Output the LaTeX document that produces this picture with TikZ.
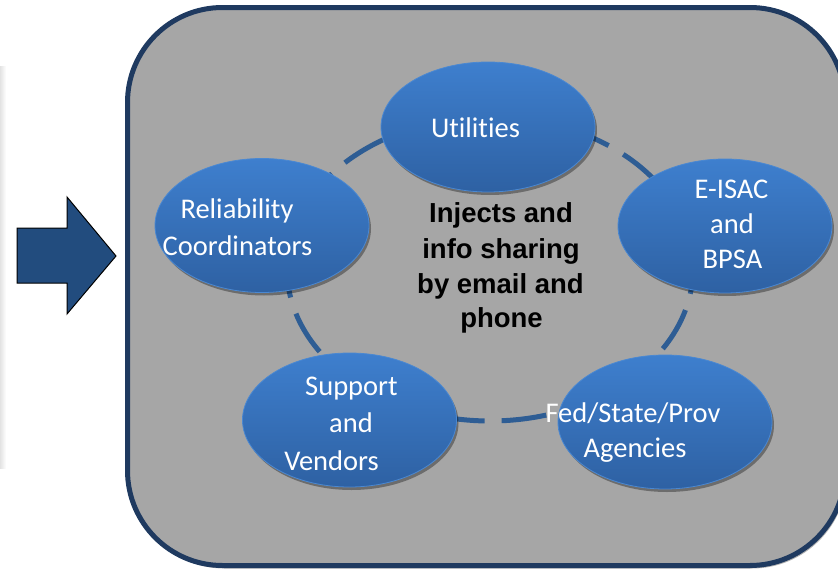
\documentclass[tikz,border=0pt]{standalone}
\usepackage{fontspec}
\setmainfont{Carlito}[Ligatures={NoCommon,NoRare,NoContextual}]
\newfontfamily\boldsans{Liberation Sans}
\usetikzlibrary{shadows,shapes.geometric}
\definecolor{rectfill}{HTML}{A6A6A6}
\definecolor{navy}{HTML}{1F3A60}
\definecolor{arrowblue}{HTML}{224C7E}
\definecolor{elltop}{HTML}{3E7FCE}
\definecolor{ellbot}{HTML}{2E61A3}
\definecolor{ellline}{HTML}{4A88D2}
\definecolor{ringblue}{HTML}{2E5D94}
\begin{document}
\begin{tikzpicture}[x=1pt,y=-1pt,
  bubble/.style={ellipse, minimum width=214pt, minimum height=134pt, inner sep=0pt,
    top color=elltop, bottom color=ellbot, draw=ellline, line width=0.8pt,
    drop shadow={shadow xshift=2pt,shadow yshift=-3pt,opacity=0.35,fill=black}},
  btext/.style={anchor=base, text=white, inner sep=0pt, font=\fontsize{28.5}{34}\selectfont},
  ctext/.style={anchor=base, text=black, inner sep=0pt, font=\boldsans\bfseries\fontsize{27.5}{35}\selectfont},
  ring/.style={draw=ringblue, line width=5pt, dash pattern=on 45pt off 17pt}
]
\useasboundingbox (0,0) rectangle (838,570);
% faint edge of a previous box
\shade[left color=gray!22, right color=white] (0,66) rectangle (6,468);
% arrow
\draw[fill=arrowblue, draw=black, line width=1pt, line join=miter]
  (17,228) -- (67,228) -- (67,197) -- (116,256) -- (67,314) -- (67,283) -- (17,283) -- cycle;
% main panel
\draw[fill=rectfill, draw=navy, line width=5pt, rounded corners=95pt,
  drop shadow={shadow xshift=2pt,shadow yshift=-3pt,opacity=0.3,fill=black}]
  (127.5,7.5) rectangle (845,565.5);
% cycle connectors (dashed elliptical arcs between neighbouring bubbles)
\coordinate (ringc) at (490,269);
\draw[ring, dash phase=20pt]   (ringc) ++(0:203 and 152)   arc[start angle=0,   end angle=50,  x radius=203, y radius=152];
\draw[ring, dash phase=14.4pt] (ringc) ++(60:203 and 152)  arc[start angle=60,  end angle=120, x radius=203, y radius=152];
\draw[ring, dash phase=38.8pt] (ringc) ++(120:203 and 152) arc[start angle=120, end angle=180, x radius=203, y radius=152];
\draw[ring, dash phase=52.4pt] (ringc) ++(200:203 and 152) arc[start angle=200, end angle=250, x radius=203, y radius=152];
\draw[ring, dash phase=54pt]   (ringc) ++(290:203 and 152) arc[start angle=290, end angle=350, x radius=203, y radius=152];
% bubbles
\node[bubble, minimum height=130pt] (util) at (488,127) {};
\node[bubble] (relc) at (262,225.5) {};
\node[bubble] (eisac) at (725,226) {};
\node[bubble] (supp) at (349.5,420) {};
\node[bubble] (fed) at (665,422) {};
% bubble texts
\node[btext] (t-util) at (475.5,137) {Utilities};
\node[btext] (t-rel1) at (237,218) {Reliability};
\node[btext] (t-rel2) at (237.5,255) {Coordinators};
\node[btext] (t-e1) at (731.5,198) {E-ISAC};
\node[btext] (t-e2) at (732,233) {and};
\node[btext] (t-e3) at (732.5,268) {BPSA};
\node[btext] (t-s1) at (351.5,395) {Support};
\node[btext] (t-s2) at (351,432) {and};
\node[btext] (t-s3) at (331.5,470) {Vendors};
\node[btext] (t-f1) at (633,422) {Fed/State/Prov};
\node[btext] (t-f2) at (635,457) {Agencies};
% centre text
\node[ctext] (c1) at (501,222.5) {Injects and};
\node[ctext] (c2) at (501,258) {info sharing};
\node[ctext] (c3) at (500.5,293) {by email and};
\node[ctext] (c4) at (501.5,327.5) {phone};
\end{tikzpicture}
\end{document}
